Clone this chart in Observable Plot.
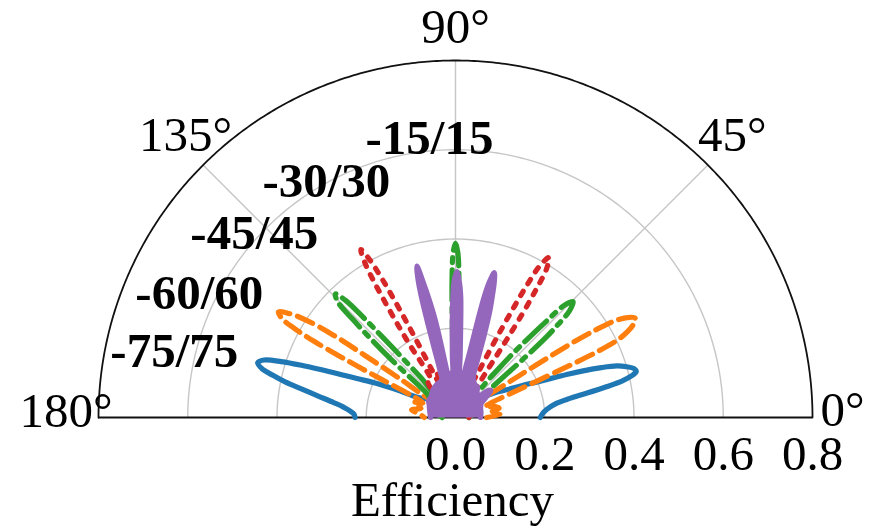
<!DOCTYPE html>
<html><head><meta charset="utf-8">
<script src="https://cdn.jsdelivr.net/npm/d3@7"></script>
<script src="https://cdn.jsdelivr.net/npm/@observablehq/plot@0.6"></script>
<style>html,body{margin:0;padding:0;background:#fff;}</style>
</head><body><div id="chart"></div>
<script>
// Each series: [angle in degrees, efficiency]
const s75 = [[0,0.19],[2.5,0.195],[5,0.205],[7.8,0.226],[9.5,0.26],[10.5,0.3],[11.5,0.345],[12.4,0.383],[13.3,0.405],[14.3,0.418],[15.3,0.415],[16.5,0.40],[17.7,0.38],[18.9,0.345],[19.9,0.31],[20.9,0.275],[21.9,0.242],[23.5,0.20],[25.6,0.166],[28.5,0.13],[32,0.106],[36,0.08],[40,0.06],[50,0.05],[60,0.04],[70,0.05],[80,0.04],[90,0.05],[100,0.04],[110,0.05],[120,0.05],[130,0.06],[140,0.07],[148,0.08],[152,0.097],[154.5,0.14],[156.5,0.19],[158.5,0.24],[160,0.3],[161.2,0.36],[162.2,0.41],[163.3,0.448],[164.5,0.46],[165.8,0.448],[167,0.42],[168.2,0.39],[169.5,0.35],[171,0.314],[173,0.275],[174.7,0.252],[178,0.228],[180,0.225]];
const s60 = [[0,0.07],[4,0.1],[8,0.08],[12,0.1],[16,0.09],[20,0.07],[22.5,0.09],[23.5,0.13],[24.1,0.2],[24.5,0.28],[24.9,0.35],[25.5,0.40],[26.5,0.43],[27.8,0.452],[29,0.46],[30.2,0.445],[31.3,0.415],[32,0.37],[32.5,0.32],[32.9,0.25],[33.3,0.17],[33.9,0.11],[35.5,0.07],[40,0.05],[50,0.04],[70,0.05],[90,0.04],[110,0.05],[130,0.05],[140,0.06],[144.3,0.07],[145.1,0.15],[145.6,0.25],[146,0.33],[146.9,0.40],[148,0.44],[149.2,0.462],[150.4,0.445],[151.1,0.41],[151.7,0.36],[152.2,0.28],[152.7,0.19],[153.4,0.11],[156,0.08],[160,0.1],[165,0.08],[170,0.1],[175,0.08],[180,0.07]];
const s45 = [[0,0.03],[10,0.04],[20,0.05],[30,0.06],[36,0.08],[38,0.07],[39.5,0.1],[40.8,0.2],[41.5,0.27],[42.2,0.31],[43.1,0.35],[44.6,0.37],[45.9,0.35],[46.6,0.30],[47.3,0.25],[48,0.2],[48.9,0.12],[50.5,0.07],[60,0.06],[70,0.07],[80,0.06],[86,0.06],[87.7,0.15],[88.5,0.3],[89.2,0.37],[90,0.39],[90.8,0.37],[91.5,0.3],[92.3,0.15],[94,0.06],[100,0.06],[110,0.07],[120,0.06],[129.5,0.06],[131,0.12],[131.9,0.2],[132.6,0.3],[133.2,0.36],[134.2,0.386],[135.5,0.37],[136.3,0.32],[137.1,0.26],[137.9,0.2],[138.9,0.11],[140.5,0.08],[145,0.07],[150,0.06],[160,0.05],[170,0.04],[180,0.03]];
const s30 = [[0,0.03],[20,0.04],[40,0.05],[48,0.06],[53.5,0.07],[55.5,0.1],[56.6,0.2],[57.2,0.28],[57.8,0.34],[58.5,0.39],[59.7,0.415],[60.9,0.39],[61.6,0.34],[62.1,0.28],[62.7,0.2],[63.7,0.1],[65,0.08],[68,0.11],[72,0.08],[76,0.12],[80,0.07],[84,0.1],[90,0.08],[96,0.1],[100,0.07],[104,0.12],[108,0.08],[112,0.11],[115,0.08],[116.1,0.1],[116.9,0.2],[117.4,0.28],[117.9,0.35],[118.5,0.40],[119.4,0.432],[120.4,0.40],[121,0.35],[121.6,0.28],[122.2,0.2],[123.1,0.1],[125,0.1],[128,0.1],[132,0.07],[140,0.05],[160,0.04],[180,0.03]];
const s15 = [[0,0.056],[10,0.058],[20,0.06],[28,0.065],[33,0.08],[36,0.095],[38,0.10],[40,0.09],[43,0.07],[50,0.075],[54,0.084],[58,0.085],[63,0.09],[66.5,0.1],[68.7,0.13],[70.1,0.17],[70.9,0.2],[72.1,0.25],[73,0.28],[74,0.315],[75,0.336],[75.9,0.315],[76.6,0.28],[77.1,0.22],[77.6,0.16],[78.4,0.12],[80,0.09],[82,0.1],[84,0.1],[85.7,0.14],[86.7,0.2],[87.5,0.27],[88.4,0.305],[89.5,0.327],[90.6,0.305],[91.4,0.26],[92.1,0.2],[92.9,0.14],[94.2,0.1],[96,0.1],[98,0.09],[100,0.1],[100.7,0.12],[101.2,0.17],[101.7,0.22],[102.6,0.27],[103.4,0.31],[104.3,0.35],[105.2,0.32],[105.8,0.28],[106.4,0.22],[107.1,0.16],[108.3,0.11],[110,0.09],[120,0.085],[129,0.08],[140,0.072],[148,0.071],[155,0.065],[165,0.06],[180,0.056]];

const seriesLabels = ["-75/75","-60/60","-45/45","-30/30","-15/15"];
const radialTicks = [0, 0.2, 0.4, 0.6, 0.8];
const angleTicks = [0, 45, 90, 135, 180];
const axisTitle = "Efficiency";

const rad = a => a * Math.PI / 180;
const toXY = pts => pts.map(([a, r]) => ({x: r * Math.cos(rad(a)), y: r * Math.sin(rad(a))}));

// grid
const grid = [];
for (const r of [0.2, 0.4, 0.6]) for (const a of d3.range(0, 180.5, 1)) grid.push({r, x: r*Math.cos(rad(a)), y: r*Math.sin(rad(a))});
const outer = d3.range(0, 180.5, 0.5).map(a => ({x: 0.8*Math.cos(rad(a)), y: 0.8*Math.sin(rad(a))}));
const spokes = [45, 90, 135].map(a => ({x2: 0.8*Math.cos(rad(a)), y2: 0.8*Math.sin(rad(a))}));

// annotation layout (label anchors, in data units)
const labelX = [-0.7735, -0.7175, -0.5942, -0.4327, -0.2018];
const labelY = [0.148, 0.278, 0.4126, 0.5291, 0.6256];

const FS = 49;
const font = "'Liberation Serif', 'Times New Roman', serif";
const angleLabel = (a, opts) => Plot.text([a], {
  x: d => 0.8*Math.cos(rad(d)), y: d => 0.8*Math.sin(rad(d)),
  text: d => d + "°", fontSize: FS, fontFamily: font, lineAnchor: "middle", fill: "black", ...opts
});

const lw = 5.2;
const chart = Plot.plot({
  width: 879, height: 528,
  marginLeft: 98, marginRight: 67, marginTop: 60, marginBottom: 111,
  x: {domain: [-0.8, 0.8], axis: null},
  y: {domain: [0, 0.8], axis: null},
  style: {fontFamily: font, background: "white", overflow: "visible"},
  marks: [
    Plot.line(grid, {x: "x", y: "y", z: "r", stroke: "#c6c6c6", strokeWidth: 1.4}),
    Plot.link(spokes, {x1: () => 0, y1: () => 0, x2: "x2", y2: "y2", stroke: "#c6c6c6", strokeWidth: 1.4}),
    Plot.line(outer, {x: "x", y: "y", stroke: "#111", strokeWidth: 1.8}),
    Plot.ruleY([0], {stroke: "#111", strokeWidth: 1.8}),
    Plot.line(toXY(s75), {x: "x", y: "y", stroke: "#1f77b4", strokeWidth: lw, strokeLinejoin: "round", curve: "catmull-rom"}),
    Plot.line(toXY(s60), {x: "x", y: "y", stroke: "#ff7f0e", strokeWidth: lw, strokeDasharray: "17,8", strokeLinejoin: "round", curve: "catmull-rom"}),
    Plot.line(toXY(s45), {x: "x", y: "y", stroke: "#2ca02c", strokeWidth: lw, strokeDasharray: "30,7.5,5,7.5", strokeLinejoin: "round", curve: "catmull-rom"}),
    Plot.line(toXY(s30), {x: "x", y: "y", stroke: "#d62728", strokeWidth: lw, strokeDasharray: "5,9", strokeLinejoin: "round", curve: "catmull-rom"}),
    Plot.line(toXY(s15), {x: "x", y: "y", stroke: "#9467bd", fill: "#9467bd", strokeWidth: lw, strokeLinejoin: "round", curve: "catmull-rom"}),
    Plot.text(radialTicks, {x: d => d, y: () => 0, text: d => d.toFixed(1), dy: 37, fontSize: FS, fontFamily: font, lineAnchor: "middle", fill: "black"}),
    Plot.text([axisTitle], {x: () => 0, y: () => 0, text: d => d, dy: 83, dx: -3, fontSize: FS, fontFamily: font, lineAnchor: "middle", fill: "black"}),
    angleLabel(0, {textAnchor: "start", dx: 8, dy: -7}),
    angleLabel(45, {textAnchor: "start", dx: -10, dy: -30}),
    angleLabel(90, {textAnchor: "middle", dx: 0, dy: -33}),
    angleLabel(135, {textAnchor: "end", dx: 29, dy: -30}),
    angleLabel(180, {textAnchor: "end", dx: 14, dy: -6}),
    Plot.text(seriesLabels, {x: (d, i) => labelX[i], y: (d, i) => labelY[i], text: d => d, fontSize: FS, fontWeight: "bold", fontFamily: font, textAnchor: "start", lineAnchor: "middle", fill: "black"})
  ]
});
document.getElementById("chart").appendChild(chart);
</script>
</body></html>
